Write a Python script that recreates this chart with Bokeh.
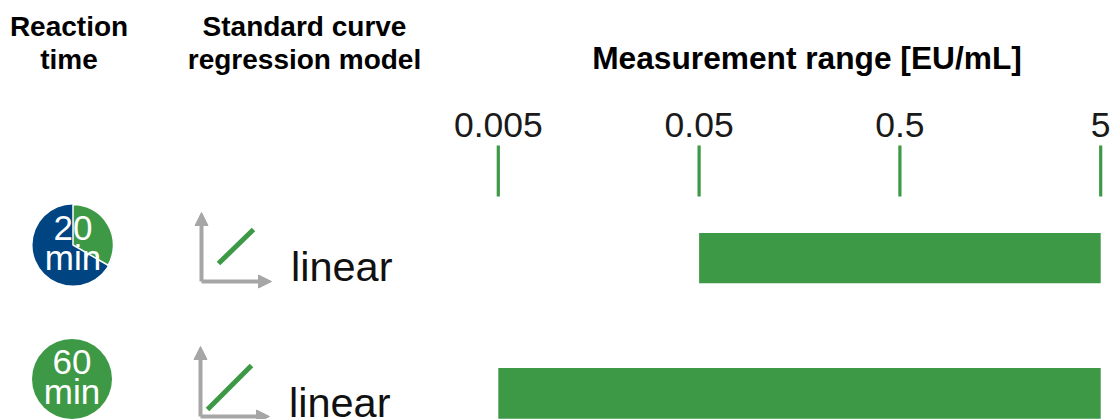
import math
from bokeh.core.properties import value
from bokeh.embed import file_html
from bokeh.models import Arrow, LinearScale, NormalHead, Range1d
from bokeh.plotting import figure
from bokeh.resources import INLINE

# Measurement range per reaction time
reaction_minutes = [20, 60]
range_low = [0.05, 0.005]
range_high = [5, 5]
regression_model = ["linear", "linear"]
tick_values = [0.005, 0.05, 0.5, 5]
tick_labels = ["0.005", "0.05", "0.5", "5"]
full_cycle_minutes = 60

GREEN = "#3D9946"
BLUE = "#004481"
GREY = "#A6A6A6"
FONT = "Liberation Sans"

WIDTH, HEIGHT = 1110, 419

# Log scale placed so that one decade spans 200.8 px with 0.005 at x=497.8
DECADE_PX = 200.8
log_left = math.log10(0.005) - 497.8 / DECADE_PX
log_right = log_left + WIDTH / DECADE_PX

p = figure(
    width=WIDTH, height=HEIGHT, output_backend="svg", toolbar_location=None,
    x_axis_type="log",
    x_range=Range1d(10 ** log_left, 10 ** log_right),
    y_range=Range1d(HEIGHT, 0),
    min_border=0,
)
p.axis.visible = False
p.grid.visible = False
p.outline_line_color = None
p.background_fill_color = "white"
p.border_fill_color = "white"
p.extra_x_ranges["px"] = Range1d(0, WIDTH)
p.extra_x_scales["px"] = LinearScale()


def label(x, y, text, size, color="#000000", bold=False, align="center"):
    """Place a text with y at the vertical centre of its capitals."""
    p.text(
        x=[x], y=[y], text=[text], text_font=value(FONT),
        text_font_size=f"{size}px", text_color=color,
        text_font_style="bold" if bold else "normal",
        text_align=align, text_baseline="middle", x_range_name="px",
    )


# Column headers
label(68.5, 26, "Reaction", 28, bold=True)
label(68.5, 59, "time", 28, bold=True)
label(304, 26, "Standard curve", 28, bold=True)
label(304, 59, "regression model", 28, bold=True)
label(806.5, 57, "Measurement range [EU/mL]", 31.7, bold=True)

# Log axis ticks across the top
p.segment(x0=tick_values, x1=tick_values, y0=[145] * 4, y1=[196] * 4,
          line_color=GREEN, line_width=3.2)
p.text(x=tick_values, y=[124] * 4, text=tick_labels, text_font=value(FONT),
       text_font_size="35.5px", text_color="#1a1a1a", text_align="center",
       text_baseline="middle")

# Range bars, one per reaction time
p.quad(left=range_low, right=range_high, top=[232.5, 367.5], bottom=[282.7, 418.3],
       fill_color=GREEN, line_color=None)

# Clock icons: a green slice shows the elapsed part of the cycle
centers = [(72.5, 244.5, 40.5), (71.5, 378.5, 40.0)]
for (cx, cy, r), minutes in zip(centers, reaction_minutes):
    fraction = minutes / full_cycle_minutes
    if fraction < 1:
        p.circle(x=[cx], y=[cy], radius=r, radius_units="screen", x_range_name="px",
                 fill_color=BLUE, line_color=None)
        p.wedge(x=[cx], y=[cy], radius=r, radius_units="screen", x_range_name="px",
                start_angle=math.pi / 2 - 2 * math.pi * fraction, end_angle=math.pi / 2,
                fill_color=GREEN, line_color="white", line_width=1.5)
    else:
        p.circle(x=[cx], y=[cy], radius=r, radius_units="screen", x_range_name="px",
                 fill_color=GREEN, line_color=None)
    label(cx, cy - 17, str(minutes), 35, color="white")
    label(cx, cy + 12, "min", 35, color="white")

# Small regression icons: axes with arrowheads, fitted line, model name
icons = [
    dict(ax=201, top=212, base=281, right=271, line=(218, 263, 253, 229), tx=290.5, ty=266),
    dict(ax=200, top=346, base=416, right=269, line=(207, 409, 251, 365), tx=288.5, ty=402),
]
for icon, model in zip(icons, regression_model):
    ax, base = icon["ax"], icon["base"]
    for x_end, y_end in ((ax, icon["top"]), (icon["right"], base)):
        p.add_layout(Arrow(
            end=NormalHead(size=13, fill_color=GREY, line_color=GREY),
            x_start=ax, y_start=base, x_end=x_end, y_end=y_end,
            line_color=GREY, line_width=4, x_range_name="px",
        ))
    x0, y0, x1, y1 = icon["line"]
    p.line(x=[x0, x1], y=[y0, y1], x_range_name="px", line_color=GREEN, line_width=5)
    label(icon["tx"], icon["ty"], model, 41.5, color="#111111", align="left")

open("out.html", "w").write(file_html(p, INLINE))
